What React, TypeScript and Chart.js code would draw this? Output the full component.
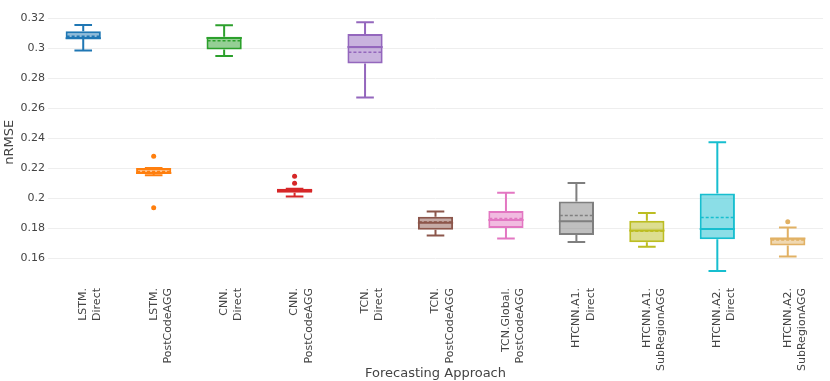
import React, { useEffect, useRef } from "react";
import { Chart, registerables } from "chart.js";

Chart.register(...registerables);

const categories: string[][] = [
  ["LSTM.", "Direct"],
  ["LSTM.", "PostCodeAGG"],
  ["CNN.", "Direct"],
  ["CNN.", "PostCodeAGG"],
  ["TCN.", "Direct"],
  ["TCN.", "PostCodeAGG"],
  ["TCN.Global.", "PostCodeAGG"],
  ["HTCNN.A1.", "Direct"],
  ["HTCNN.A1.", "SubRegionAGG"],
  ["HTCNN.A2.", "Direct"],
  ["HTCNN.A2.", "SubRegionAGG"],
];

const whiskerLow = [0.2987, 0.2155, 0.2949, 0.2013, 0.2673, 0.1753, 0.1733, 0.1709, 0.1678, 0.1515, 0.1613];
const q1 = [0.3063, 0.2163, 0.2993, 0.2038, 0.29, 0.1791, 0.1802, 0.1756, 0.1707, 0.1727, 0.1685];
const median = [0.3068, 0.217, 0.307, 0.2052, 0.3009, 0.1838, 0.1856, 0.1847, 0.1785, 0.1795, 0.1733];
const q3 = [0.3115, 0.2203, 0.3078, 0.2064, 0.3096, 0.1878, 0.1915, 0.198, 0.1851, 0.2033, 0.1738];
const whiskerHigh = [0.3157, 0.2203, 0.3155, 0.2064, 0.3175, 0.1913, 0.2038, 0.2102, 0.1902, 0.2375, 0.1805];
const mean = [0.3082, 0.218, 0.3051, 0.2054, 0.2975, 0.1842, 0.1865, 0.1885, 0.178, 0.1873, 0.1722];
const outliers: number[][] = [[], [0.2281, 0.1938], [], [0.2147, 0.2101], [], [], [], [], [], [], [0.1844]];

const yTickValues = [0.16, 0.18, 0.2, 0.22, 0.24, 0.26, 0.28, 0.3, 0.32];
const yRange = { min: 0.1489, max: 0.3259 };

const colors = [
  [31, 119, 180],
  [255, 127, 14],
  [44, 160, 44],
  [214, 39, 40],
  [148, 103, 189],
  [140, 86, 75],
  [227, 119, 194],
  [127, 127, 127],
  [188, 189, 34],
  [23, 190, 207],
  [225, 177, 100],
];

const rgb = (c: number[], a = 1) => `rgba(${c[0]},${c[1]},${c[2]},${a})`;

const boxPlugin = {
  id: "boxExtras",
  afterDatasetsDraw(chart: any) {
    const meta = chart.getDatasetMeta(0);
    const y = chart.scales.y;
    const ctx = chart.ctx;
    ctx.save();
    meta.data.forEach((bar: any, i: number) => {
      const cx = bar.x;
      const w = bar.width;
      const col = rgb(colors[i]);
      ctx.strokeStyle = col;
      ctx.lineWidth = 2;
      ctx.setLineDash([]);
      const yLo = y.getPixelForValue(whiskerLow[i]);
      const yQ1 = y.getPixelForValue(q1[i]);
      const yQ3 = y.getPixelForValue(q3[i]);
      const yHi = y.getPixelForValue(whiskerHigh[i]);
      const yMed = y.getPixelForValue(median[i]);
      const yMean = y.getPixelForValue(mean[i]);
      ctx.beginPath();
      ctx.moveTo(cx, yQ1);
      ctx.lineTo(cx, yLo);
      ctx.moveTo(cx, yQ3);
      ctx.lineTo(cx, yHi);
      ctx.moveTo(cx - w / 4, yLo);
      ctx.lineTo(cx + w / 4, yLo);
      ctx.moveTo(cx - w / 4, yHi);
      ctx.lineTo(cx + w / 4, yHi);
      ctx.moveTo(cx - w / 2, yMed);
      ctx.lineTo(cx + w / 2, yMed);
      ctx.stroke();
      ctx.beginPath();
      ctx.setLineDash([3, 2]);
      ctx.lineWidth = 1.5;
      ctx.moveTo(cx - w / 2 + 1, yMean);
      ctx.lineTo(cx + w / 2 - 1, yMean);
      ctx.stroke();
    });
    ctx.restore();
  },
};

export default function App() {
  const ref = useRef<HTMLCanvasElement>(null);
  useEffect(() => {
    if (!ref.current) return;
    const outlierPoints: { x: any; y: number }[] = [];
    const outlierColors: string[] = [];
    outliers.forEach((arr, i) =>
      arr.forEach((v) => {
        outlierPoints.push({ x: categories[i], y: v });
        outlierColors.push(rgb(colors[i]));
      })
    );
    const chart = new Chart(ref.current, {
      type: "bar",
      data: {
        labels: categories,
        datasets: [
          {
            type: "bar",
            data: q1.map((v, i) => [v, q3[i]]),
            backgroundColor: colors.map((c) => rgb(c, 0.5)),
            borderColor: colors.map((c) => rgb(c)),
            borderWidth: 2,
            borderSkipped: false,
            barPercentage: 0.5,
            categoryPercentage: 1,
          } as any,
          {
            type: "scatter",
            data: outlierPoints,
            pointBackgroundColor: outlierColors,
            pointBorderColor: outlierColors,
            pointRadius: 2.5,
            pointBorderWidth: 0,
          } as any,
        ],
      },
      options: {
        animation: false,
        responsive: false,
        events: [],
        layout: { padding: { top: 5, right: 7, left: 0, bottom: 0 } },
        plugins: { legend: { display: false }, tooltip: { enabled: false } },
        scales: {
          x: {
            type: "category",
            offset: true,
            grid: { display: false },
            border: { display: false },
            ticks: {
              autoSkip: false,
              maxRotation: 90,
              minRotation: 90,
              padding: 5,
              color: "#444",
              font: { family: "DejaVu Sans", size: 11, lineHeight: 1.3 },
            },
            title: {
              display: true,
              text: "Forecasting Approach",
              color: "#444",
              font: { family: "DejaVu Sans", size: 13 },
              padding: { top: 4, bottom: 0 },
            },
            afterFit: (s: any) => {
              s.height = 106;
            },
          },
          y: {
            type: "linear",
            min: yRange.min,
            max: yRange.max,
            grid: { color: "#eeeeee", lineWidth: 1, drawTicks: false },
            border: { display: false },
            afterBuildTicks: (s: any) => {
              s.ticks = yTickValues.map((v) => ({ value: v }));
            },
            ticks: {
              padding: 3,
              color: "#444",
              font: { family: "DejaVu Sans", size: 11 },
              callback: (v: any) => String(parseFloat(Number(v).toFixed(2))),
            },
            title: {
              display: true,
              text: "nRMSE",
              color: "#444",
              font: { family: "DejaVu Sans", size: 13 },
              padding: { top: 2, bottom: 0 },
            },
            afterFit: (s: any) => {
              s.width = 48;
            },
          },
        },
      },
      plugins: [boxPlugin],
    });
    return () => chart.destroy();
  }, []);
  return (
    <div style={{ position: "absolute", left: 0, top: 0, width: 830, height: 381, background: "#fff" }}>
      <canvas ref={ref} width={830} height={381} />
    </div>
  );
}
